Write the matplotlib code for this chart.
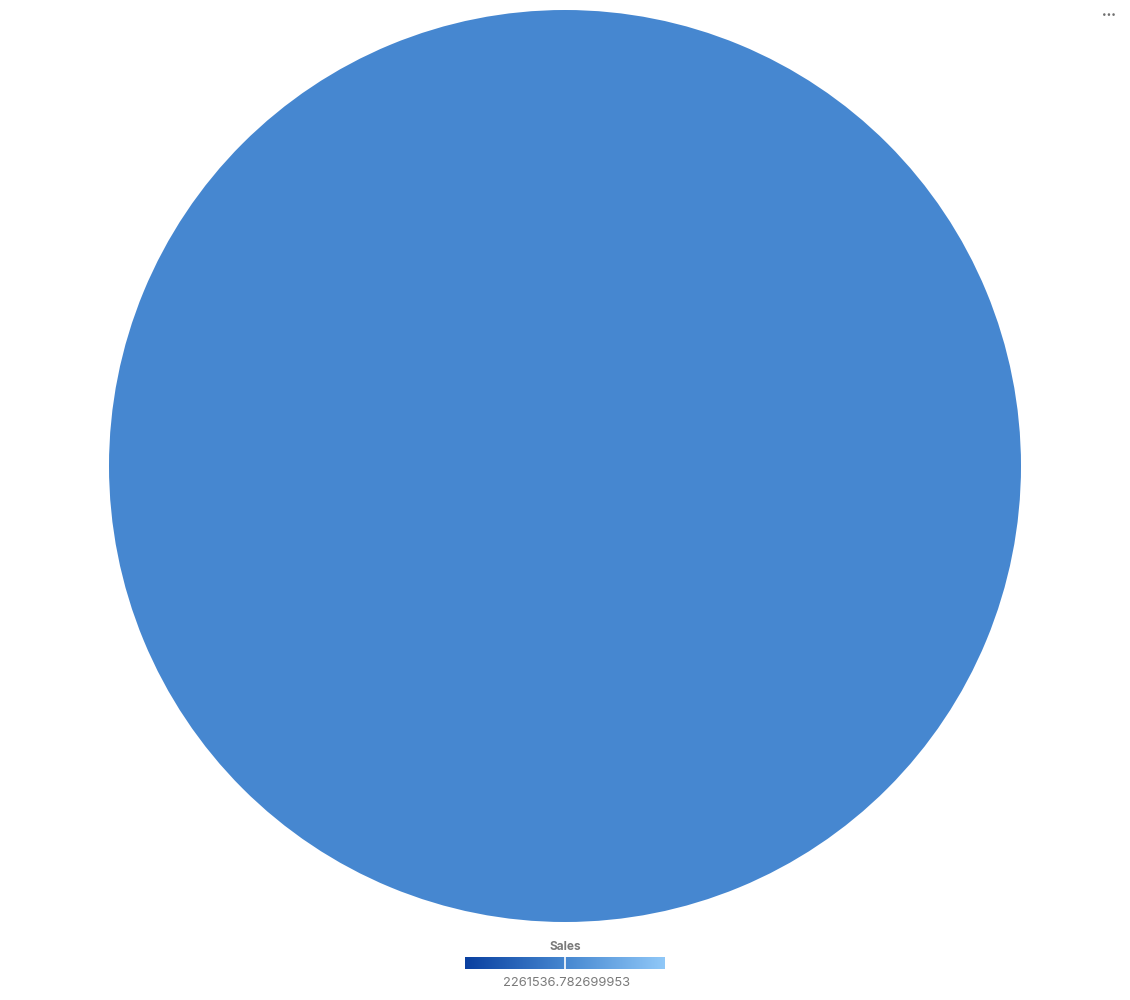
import numpy as np
import matplotlib.pyplot as plt
from matplotlib.colors import LinearSegmentedColormap

plt.rcParams['font.family'] = ['Inter', 'DejaVu Sans']

# data
categories = ['Sales']
sales = [2261536.782699953]
legend_title = 'Sales'
legend_label = '2261536.782699953'

W, H = 1130, 1000
fig = plt.figure(figsize=(W / 100, H / 100), dpi=100)

# pie: centre (565, 466), radius 456 px
cx, cy, r = 565, 466, 456
ax = fig.add_axes([(cx - r) / W, (H - cy - r) / H, 2 * r / W, 2 * r / H])
ax.pie(sales, colors=['#4687d0'], startangle=90, counterclock=False,
       radius=1, wedgeprops=dict(linewidth=0))
ax.set_xlim(-1, 1)
ax.set_ylim(-1, 1)
ax.set_aspect('equal')
ax.axis('off')

# gradient legend
cmap = LinearSegmentedColormap.from_list('blues', ['#0a40a0', '#4687d0', '#90c8f8'])
cax = fig.add_axes([465 / W, (H - 969) / H, 200 / W, 12 / H])
grad = np.linspace(0, 1, 256).reshape(1, -1)
cax.imshow(grad, aspect='auto', cmap=cmap, extent=[0, 1, 0, 1])
cax.axvline(0.5, color='white', linewidth=1.2)
cax.set_xlim(0, 1)
cax.set_ylim(0, 1)
cax.axis('off')

fig.text(565 / W, 1 - 947 / H, legend_title, ha='center', va='center',
         fontsize=8.5, fontweight='bold', color='#7a7a7a')
fig.text(566 / W, 1 - 983 / H, legend_label, ha='center', va='center',
         fontsize=9.3, color='#7a7a7a')

# menu dots top right
fig.text(1109 / W, 1 - 14 / H, '•••', ha='center', va='center',
         fontsize=6, color='#707070')

fig.savefig('out.png', dpi=100)
